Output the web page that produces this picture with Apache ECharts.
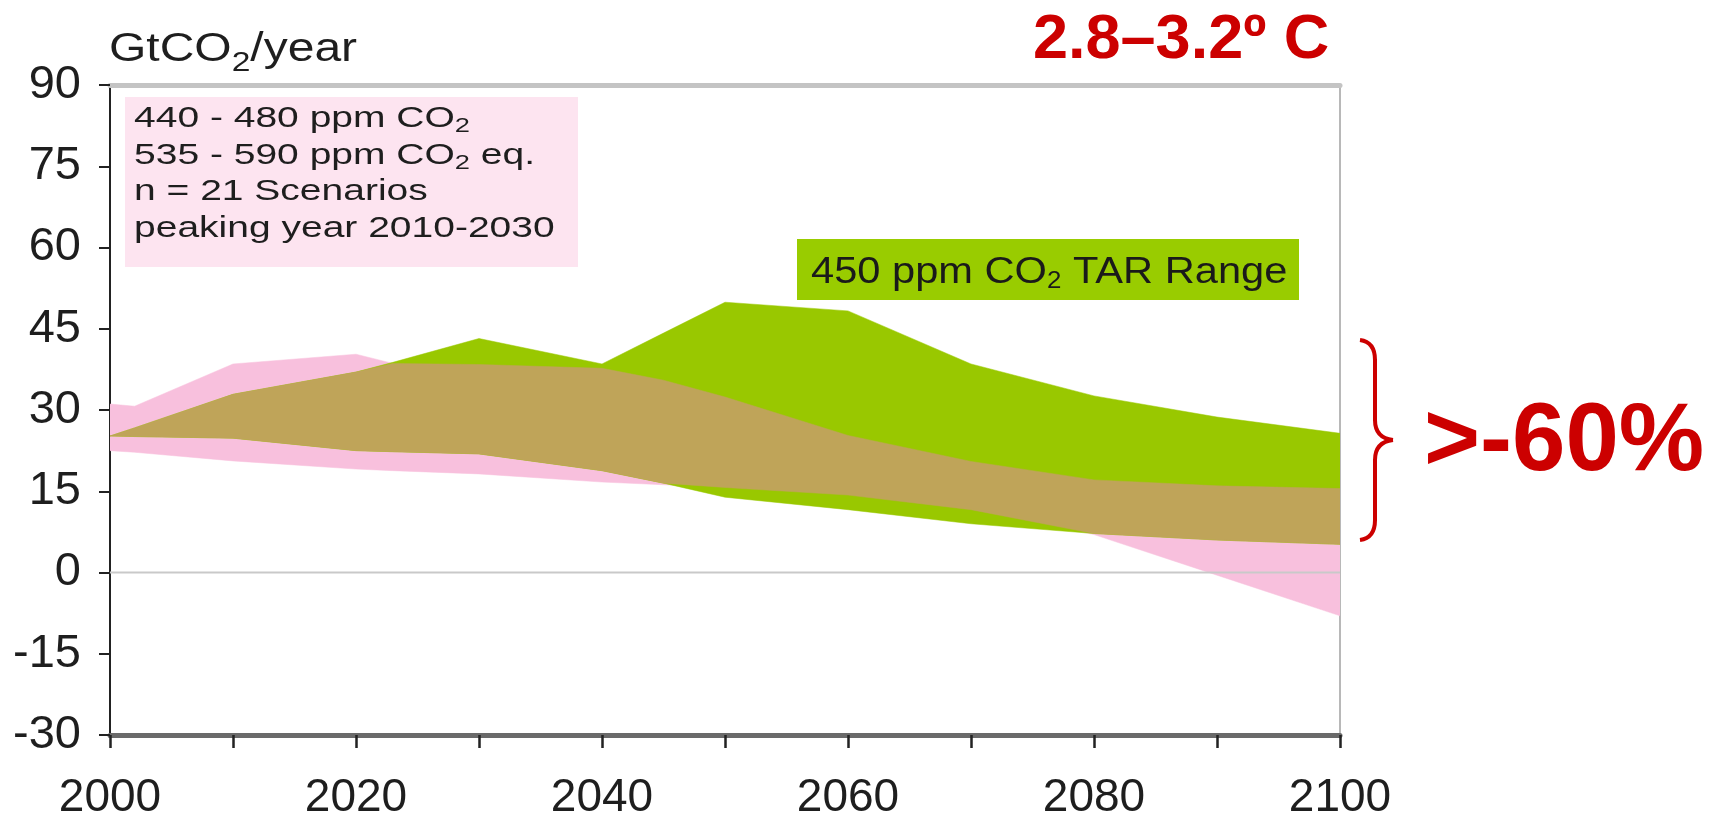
<!DOCTYPE html>
<html><head><meta charset="utf-8">
<script src="https://cdn.jsdelivr.net/npm/echarts@6/dist/echarts.min.js"></script>
<style>html,body{margin:0;padding:0;background:#fff}#chart{width:1710px;height:821px}</style>
</head><body><div id="chart"></div>
<script>
// ---- data ----
const years        = [2000, 2002, 2010, 2020, 2023, 2030, 2040, 2045, 2050, 2060, 2070, 2080, 2090, 2100];
// 440-480 ppm CO2 range (pink)
const pinkUpper    = [31.1, 30.7, 38.5, 40.3, 38.6, 38.4, 37.7, 35.5, 32.4, 25.3, 20.5, 17.1, 16.0, 15.5];
const pinkLower    = [22.5, 22.2, 20.6, 19.1, 18.8, 18.2, 16.7, 16.2, 15.7, 14.3, 11.6,  7.0, -0.5, -8.0];
// 450 ppm CO2 TAR range (green)
const greenUpper   = [25.2, 26.7, 32.9, 37.0, 38.8, 43.2, 38.5, 44.2, 49.9, 48.3, 38.5, 32.6, 28.7, 25.7];
const greenLower   = [25.2, 25.1, 24.8, 22.5, 22.3, 21.9, 18.8, 16.5, 13.9, 11.6,  9.0,  7.2,  6.0,  5.2];
// overlap of both ranges (brown)
const overlapUpper = [25.2, 26.7, 32.9, 37.0, 38.6, 38.4, 37.7, 35.5, 32.4, 25.3, 20.5, 17.1, 16.0, 15.5];
const overlapLower = [25.2, 25.1, 24.8, 22.5, 22.3, 21.9, 18.8, 16.5, 15.7, 14.3, 11.6,  7.2,  6.0,  5.2];
const xLabelYears  = [2000, 2020, 2040, 2060, 2080, 2100];
const zeroLine     = [[2000, 0], [2100, 0]];

const FONT = '"Liberation Sans", Arial, sans-serif';

function bandSeries(name, lower, upper, color) {
  return {
    name: name, type: 'custom', silent: true, clip: true,
    encode: { x: 0, y: [1, 2] },
    data: years.map((x, i) => [x, lower[i], upper[i]]),
    renderItem: function (params, api) {
      if (params.dataIndex !== 0) return null;
      const top = years.map((x, i) => api.coord([x, upper[i]]));
      const bot = years.map((x, i) => api.coord([x, lower[i]])).reverse();
      return { type: 'polygon', shape: { points: top.concat(bot) },
               style: { fill: color, stroke: color, lineWidth: 0.5 } };
    }
  };
}

const series = [
  bandSeries('440-480 ppm CO2', pinkLower, pinkUpper, '#f8c0dd'),
  bandSeries('450 ppm CO2 TAR Range', greenLower, greenUpper, '#99c800'),
  bandSeries('overlap', overlapLower, overlapUpper, '#bfa459'),
  { name: 'zero', type: 'line', data: zeroLine, symbol: 'none', silent: true, z: 3,
    lineStyle: { color: '#c9c9c9', width: 2 } }
];

const RED = '#cc0000';
const braceStyle = { stroke: RED, lineWidth: 4, fill: null };

const chart = echarts.init(document.getElementById('chart'));
chart.setOption({
  animation: false,
  backgroundColor: '#ffffff',
  grid: { left: 110, right: 370, top: 85, bottom: 85, containLabel: false },
  xAxis: [
    { type: 'value', min: 2000, max: 2100, interval: 10, position: 'bottom',
      axisLine: { show: true, onZero: false, lineStyle: { color: '#6a6a6a', width: 5 } },
      axisTick: { show: true, length: 13, lineStyle: { color: '#222', width: 2.5 } },
      axisLabel: { fontSize: 46, fontFamily: FONT, color: '#1e1e1e', margin: 40,
        formatter: v => xLabelYears.indexOf(v) >= 0 ? String(v) : '' },
      splitLine: { show: false } },
    { type: 'value', min: 2000, max: 2100, interval: 10, position: 'top',
      axisLine: { show: true, onZero: false, lineStyle: { color: '#c4c4c4', width: 5 } },
      axisTick: { show: false }, axisLabel: { show: false }, splitLine: { show: false } }
  ],
  yAxis: [
    { type: 'value', min: -30, max: 90, interval: 15, position: 'left',
      axisLine: { show: true, onZero: false, lineStyle: { color: '#222', width: 2 } },
      axisTick: { show: true, length: 11, lineStyle: { color: '#222', width: 2 } },
      axisLabel: { fontSize: 47, fontFamily: FONT, color: '#1e1e1e', margin: 29 },
      splitLine: { show: false } },
    { type: 'value', min: -30, max: 90, interval: 15, position: 'right',
      axisLine: { show: true, onZero: false, lineStyle: { color: '#b8b8b8', width: 2 } },
      axisTick: { show: false }, axisLabel: { show: false }, splitLine: { show: false } }
  ],
  series: series,
  graphic: [
    { type: 'text', x: 109, y: 22, scaleX: 1.2, z: 10,
      style: { text: '{m|GtCO}{s|2}{m|/year}', verticalAlign: 'top', align: 'left',
        rich: { m: { fontSize: 40, fontFamily: FONT, fill: '#1e1e1e', lineHeight: 55 },
                s: { fontSize: 28, fontFamily: FONT, fill: '#1e1e1e', lineHeight: 28, verticalAlign: 'bottom' } } } },
    { type: 'rect', shape: { x: 125, y: 97, width: 453, height: 170 }, z: 10,
      style: { fill: '#fde4f0' } },
    { type: 'text', x: 134, y: 100.6, scaleX: 1.3, z: 11,
      style: { text: '{m|440 - 480 ppm CO}{s|2}\n{m|535 - 590 ppm CO}{s|2}{m| eq.}\n{m|n = 21 Scenarios}\n{m|peaking year 2010-2030}',
        verticalAlign: 'top', align: 'left',
        rich: { m: { fontSize: 30, fontFamily: FONT, fill: '#1e1e1e', lineHeight: 36.5 },
                s: { fontSize: 21, fontFamily: FONT, fill: '#1e1e1e', lineHeight: 11, verticalAlign: 'bottom' } } } },
    { type: 'rect', shape: { x: 797, y: 239, width: 502, height: 61 }, z: 10,
      style: { fill: '#99cc00' } },
    { type: 'text', x: 811, y: 253, scaleX: 1.125, z: 11,
      style: { text: '{m|450 ppm CO}{s|2}{m| TAR Range}', verticalAlign: 'top', align: 'left',
        rich: { m: { fontSize: 37, fontFamily: FONT, fill: '#1a1a1a', lineHeight: 40 },
                s: { fontSize: 23, fontFamily: FONT, fill: '#1a1a1a', lineHeight: 7, verticalAlign: 'bottom' } } } },
    { type: 'text', x: 1033, y: 40.6, z: 11,
      style: { text: '2.8–3.2º C', fontSize: 63, fontWeight: 'bold', fontFamily: FONT,
        fill: RED, verticalAlign: 'middle', align: 'left' } },
    // curly brace
    { type: 'bezierCurve', z: 11, shape: { x1: 1360, y1: 340, cpx1: 1375, cpy1: 342, x2: 1375, y2: 360 }, style: braceStyle },
    { type: 'line', z: 11, shape: { x1: 1375, y1: 359, x2: 1375, y2: 421 }, style: braceStyle },
    { type: 'bezierCurve', z: 11, shape: { x1: 1375, y1: 420, cpx1: 1375, cpy1: 438, x2: 1393, y2: 440 }, style: braceStyle },
    { type: 'bezierCurve', z: 11, shape: { x1: 1393, y1: 440, cpx1: 1375, cpy1: 442, x2: 1375, y2: 460 }, style: braceStyle },
    { type: 'line', z: 11, shape: { x1: 1375, y1: 459, x2: 1375, y2: 521 }, style: braceStyle },
    { type: 'bezierCurve', z: 11, shape: { x1: 1375, y1: 520, cpx1: 1375, cpy1: 538, x2: 1360, y2: 540 }, style: braceStyle },
    { type: 'text', x: 1424, y: 444, z: 11,
      style: { text: '>-60%', fontSize: 96, fontWeight: 'bold', fontFamily: FONT,
        fill: RED, verticalAlign: 'middle', align: 'left' } }
  ]
});
</script>
</body></html>
